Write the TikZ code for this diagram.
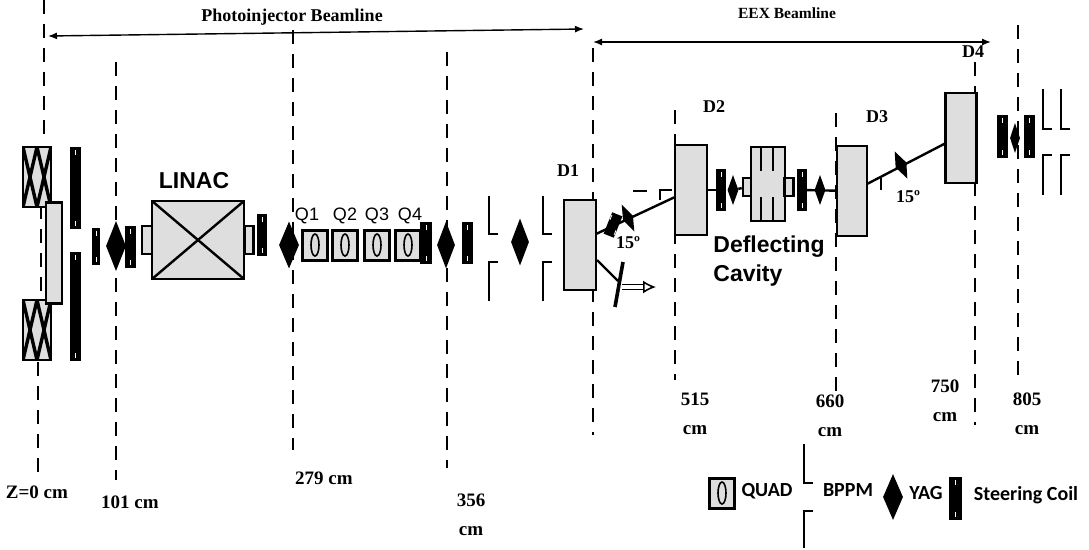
\documentclass[tikz,border=0pt]{standalone}
\usepackage{fontspec}
\setmainfont{Liberation Serif}
\setsansfont{Liberation Sans}
\newfontfamily\legendfont{Carlito}
\usetikzlibrary{
	arrows.meta,
	calc,
	shapes.geometric
}
\definecolor{blockgray}{gray}{0.87}
\tikzset{
	marker/.style={dash pattern=on 14pt off 10pt, line width=2.5pt},
	beam/.style={line width=2.4pt},
	span/.style={line width=1.4pt, {Latex[length=9pt, width=7pt]}-{Latex[length=9pt, width=7pt]}},
	block/.style 2 args={draw, rectangle, fill=blockgray, line width=2.6pt, inner sep=0pt, minimum width=#1pt, minimum height=#2pt},
	dipole/.style={block={#1}{90}},
	crossbox/.style 2 args={block={#1}{#2}, path picture={
		\draw[line width=2.4pt] (path picture bounding box.north west) -- (path picture bounding box.south east);
		\draw[line width=2.4pt] (path picture bounding box.north east) -- (path picture bounding box.south west);}},
	solenoid/.style={block={28}{60}, line width=2.8pt, path picture={
		\foreach \off in {-7pt,7pt}{
			\draw[line width=3.4pt] ($(path picture bounding box.north)+(\off-7pt,0)$) -- ($(path picture bounding box.south)+(\off+7pt,0)$);
			\draw[line width=3.4pt] ($(path picture bounding box.north)+(\off+7pt,0)$) -- ($(path picture bounding box.south)+(\off-7pt,0)$);}}},
	yag/.style 2 args={diamond, fill=black, inner sep=0pt, minimum width=#1pt, minimum height=#2pt},
	coil/.style 2 args={rectangle, fill=black, inner sep=0pt, minimum width=#1pt, minimum height=#2pt, path picture={
		\draw[white, line width=0.8pt] ($(path picture bounding box.north)+(0,-3pt)$) -- +(0,-5pt);
		\draw[white, line width=0.8pt] ($(path picture bounding box.south)+(0,3pt)$) -- +(0,5pt);}},
	quad/.style={block={25}{30}, line width=3pt, path picture={
		\draw[line width=1.6pt] (path picture bounding box.center) ellipse (4pt and 11pt);}},
	serifbold/.style={font=\fontsize{18}{20}\selectfont\bfseries},
	eextitle/.style={font=\fontsize{15.5}{17}\selectfont\bfseries},
	dist/.style={font=\fontsize{19}{29}\selectfont\bfseries, align=center},
	qlabel/.style={font=\sffamily\fontsize{18}{20}\selectfont},
	legend/.style={font=\legendfont\fontsize{20}{22}\selectfont\bfseries}
}
\newcommand{\bppm}[5]{\draw[line width=2.4pt] (#1,#2) -- (#1,#3) -- (#1+9,#3); \draw[line width=2.4pt] (#1,#5) -- (#1,#4) -- (#1+9,#4);}

\begin{document}
\begin{tikzpicture}[x=1pt, y=-1pt]
	\useasboundingbox (0,0) rectangle (1089,549);

	% position markers
	\foreach \name/\xpos/\ytop/\ybot in {za/44/0/135, zb/41/205/300, zc/38/362/480, m101/116/62/480, m279/293/30/450, m356/447/52/468, mD1/593/48/435, m515/675/110/380, m660/836/113/398, m750/975/62/425, m805/1018/25/385}{
		\coordinate (\name top) at (\xpos,\ytop);
		\coordinate (\name bot) at (\xpos,\ybot);
		\draw[marker] (\name top) -- (\name bot);
	}

	% beamline spans
	\coordinate (photoL) at (48,36);
	\coordinate (photoR) at (584,29);
	\coordinate (eexL) at (593,42);
	\coordinate (eexR) at (991,42);
	\draw[span] (photoL) -- (photoR);
	\draw[span] (eexL) -- (eexR);
	\node[serifbold] (photoT) at (292,17) {Photoinjector Beamline};
	\node[eextitle] (eexT) at (787,13) {EEX Beamline};

	% gun and linac
	\node[solenoid] (solA) at (37,177) {};
	\node[solenoid] (solB) at (37,330) {};
	\node[block={16}{101}] (gun) at (54,253) {};
	\node[coil={11}{82}] (coilA) at (75,188) {};
	\node[coil={11}{109}] (coilB) at (75,306) {};
	\node[coil={8}{37}] (coilC) at (96,246) {};
	\node[yag={20}{50}] (yagA) at (116,246) {};
	\node[coil={11}{42}] (coilD) at (130,247) {};
	\node[block={10}{28}] (portL) at (147,240) {};
	\node[block={9}{28}] (portR) at (249,240) {};
	\node[crossbox={92}{78}] (linac) at (198,240) {};
	\node[coil={10}{42}] (coilE) at (262,235) {};
	\node[font=\sffamily\bfseries\fontsize{23}{25}\selectfont] (linacT) at (194,181) {LINAC};

	% quads
	\node[yag={20}{47}] (yagB) at (289,245) {};
	\node[quad] (Q1) at (315,245) {};
	\node[quad] (Q2) at (345,245) {};
	\node[quad] (Q3) at (377,245) {};
	\node[quad] (Q4) at (408,245) {};
	\node[qlabel] (Q1T) at (307,216) {Q1};
	\node[qlabel] (Q2T) at (345,216) {Q2};
	\node[qlabel] (Q3T) at (377,216) {Q3};
	\node[qlabel] (Q4T) at (410,216) {Q4};
	\node[coil={12}{42}] (coilF) at (426,243) {};
	\node[yag={18}{47}] (yagC) at (446,245) {};
	\node[coil={11}{42}] (coilG) at (467,243) {};
	\bppm{489}{196}{234}{262}{301}
	\node[yag={18}{47}] (yagD) at (520,242) {};
	\bppm{543}{196}{234}{262}{301}

	% first dogleg
	\node[dipole=32] (D1) at (580,245) {};
	\node[dipole=32] (D2) at (691,190) {};
	\coordinate (D1up) at (596,234);
	\coordinate (D2in) at (675,197);
	\draw[beam] (D1up) -- (D2in);
	\coordinate (D1low) at (597,260);
	\coordinate (screen) at (618,281);
	\draw[beam] (D1low) -- (screen);
	\coordinate (screenA) at (623,262);
	\coordinate (screenB) at (615,307);
	\draw[line width=3.6pt] (screenA) -- (screenB);
	\coordinate (outL) at (622,287);
	\coordinate (outR) at (656,287);
	\draw[double, double distance=3.5pt, line width=1.6pt, -{Latex[open, length=13pt, width=13pt]}] (outL) -- (outR);
	\node[coil={11}{23}, rotate=-22] (coilH) at (613,225) {};
	\node[yag={11}{30}, rotate=25] (yagE) at (628,218) {};
	\coordinate (dashL) at (633,191);
	\coordinate (dashR) at (647,191);
	\draw[line width=2pt] (dashL) -- (dashR);
	\coordinate (bendA) at (660,200);
	\coordinate (bendB) at (660,190);
	\coordinate (bendC) at (672,190);
	\draw[line width=2pt] (bendA) -- (bendB) -- (bendC);
	\node[serifbold] (angleA) at (628,243) {15º};

	% deflecting cavity
	\node[block={34}{74}] (cavity) at (768,184) {};
	\foreach \xpos in {761,773}{
		\draw[line width=2.4pt] (\xpos,147) -- (\xpos,171);
		\draw[line width=2.4pt] (\xpos,197) -- (\xpos,221);
	}
	\node[block={8}{18}] (cavL) at (747,187) {};
	\node[block={9}{18}] (cavR) at (789,187) {};
	\node[coil={10}{42}] (coilI) at (721,190) {};
	\node[yag={11}{30}] (yagF) at (733,190) {};
	\node[coil={10}{42}] (coilJ) at (802,190) {};
	\node[yag={11}{30}] (yagG) at (820,190) {};
	\node[dipole=30] (D3) at (852,191) {};
	\draw[beam] (D2) -- (coilI);
	\draw[beam] (yagF) -- (cavL);
	\draw[beam] (coilJ) -- (D3);
	\node[font=\sffamily\bfseries\fontsize{23}{29}\selectfont, align=left] (cavT) at (769,261) {Deflecting\\Cavity};

	% second dogleg
	\node[dipole=31] (D4) at (961,138) {};
	\coordinate (D3out) at (867,184);
	\coordinate (D4in) at (946,143);
	\draw[beam] (D3out) -- (D4in);
	\node[yag={12}{30}, rotate=25] (yagH) at (901,165) {};
	\coordinate (tickA) at (881,178);
	\coordinate (tickB) at (881,190);
	\draw[line width=2pt] (tickA) -- (tickB);
	\node[serifbold] (angleB) at (908,197) {15º};
	\node[coil={11}{43}] (coilK) at (1002,136) {};
	\node[yag={10}{30}] (yagI) at (1015,138) {};
	\node[coil={11}{43}] (coilL) at (1029,136) {};
	\bppm{1043}{89}{129}{155}{195}
	\bppm{1061}{89}{129}{155}{195}

	% dipole and distance labels
	\node[serifbold] (D1T) at (568,171) {D1};
	\node[serifbold] (D2T) at (714,107) {D2};
	\node[serifbold] (D3T) at (877,117) {D3};
	\node[serifbold] (D4T) at (973,52) {D4};
	\node[dist] (z0) at (37,492) {Z=0 cm};
	\node[dist] (z101) at (130,502) {101 cm};
	\node[dist] (z279) at (324,478) {279 cm};
	\node[dist] (z356) at (471,515) {356\\cm};
	\node[dist] (z515) at (695,414) {515\\cm};
	\node[dist] (z660) at (830,416) {660\\cm};
	\node[dist] (z750) at (945,401) {750\\cm};
	\node[dist] (z805) at (1027,414) {805\\cm};

	% legend
	\node[quad] (legQ) at (722,493) {};
	\node[legend] (legQT) at (767,491) {QUAD};
	\bppm{804}{444}{483}{511}{548}
	\node[legend] (legBT) at (848,490) {BPPM};
	\node[yag={20}{46}] (legY) at (893,497) {};
	\node[legend] (legYT) at (926,493) {YAG};
	\node[coil={13}{43}] (legC) at (955,498) {};
	\node[legend] (legCT) at (1026,495) {Steering Coil};
\end{tikzpicture}
\end{document}
